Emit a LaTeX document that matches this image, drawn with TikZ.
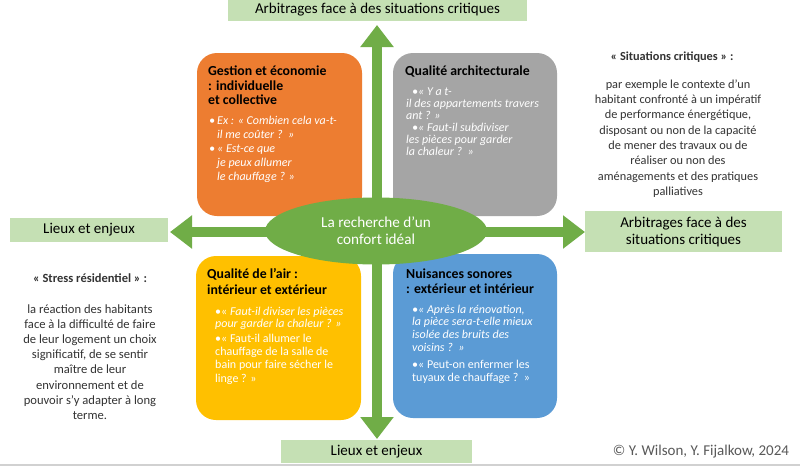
\documentclass[tikz,border=0pt]{standalone}
\usepackage{fontspec}
\setmainfont{Carlito}
\usetikzlibrary{arrows.meta,shapes.geometric}
\definecolor{orbox}{HTML}{ED7D31}
\definecolor{grbox}{HTML}{A5A5A5}
\definecolor{yebox}{HTML}{FFC000}
\definecolor{blbox}{HTML}{5B9BD5}
\definecolor{arrgreen}{HTML}{70AD47}
\definecolor{lblgreen}{HTML}{C5E0B4}
\definecolor{bodytext}{HTML}{333333}
\definecolor{copytext}{HTML}{595959}
\tikzset{
  quad/.style={rounded corners=20pt, inner sep=0pt, draw=none},
  lbl/.style={fill=lblgreen, inner sep=0pt, align=center, font=\fontsize{15}{17}\selectfont},
  ttl/.style={anchor=north west, inner sep=0pt, align=left, font=\bfseries\fontsize{13.8}{14.5}\selectfont},
  bul/.style={anchor=north west, inner sep=0pt, align=left, text=white},
  bigarrow/.style={arrgreen, line width=10pt, {Triangle[length=22pt,width=32pt]}-{Triangle[length=22pt,width=32pt]}},
  side/.style={inner sep=0pt, align=center, text=bodytext}
}
\begin{document}
\begin{tikzpicture}[x=1pt,y=-1pt]
\useasboundingbox (0,0) rectangle (800,466);
\fill[white] (0,0) rectangle (800,466);
\draw[black!18, line width=2pt] (0,465) -- (800,465);

% labels
\node[lbl, minimum width=299pt, minimum height=21pt] (toplbl) at (377.5,10) {Arbitrages face à des situations critiques};
\node[lbl, minimum width=158pt, minimum height=24pt] (leftlbl) at (89,230) {Lieux et enjeux};
\node[lbl, minimum width=197pt, minimum height=41pt] (rightlbl) at (683.5,231.5) {Arbitrages face à des\\situations critiques};
\node[lbl, minimum width=191pt, minimum height=23pt] (botlbl) at (376.5,451.5) {Lieux et enjeux};

% arrow endpoints
\coordinate (vt) at (377,25);
\coordinate (vb) at (377,439);
\coordinate (hl) at (170,232);
\coordinate (hr) at (585,232);
\draw[bigarrow] (vb) -- (vt);
\draw[bigarrow] (hl) -- (hr);

% quadrant boxes
\node[quad, fill=orbox, minimum width=165pt, minimum height=163pt] (ob) at (279.5,134.5) {};
\node[quad, fill=grbox, minimum width=164pt, minimum height=163pt] (gb) at (475,134.5) {};
\node[quad, fill=yebox, minimum width=165pt, minimum height=164pt] (yb) at (278.5,338) {};
\node[quad, fill=blbox, minimum width=164pt, minimum height=164pt] (bb) at (475,336) {};

% centre ellipse
\node[ellipse, fill=arrgreen, inner sep=0pt, minimum width=222pt, minimum height=67pt, text=white, align=center,
      font=\fontsize{15.2}{17}\selectfont] (ell) at (376,231) {La recherche d’un\\confort idéal};

% orange box text
\node[ttl] (obt) at (208,66) {Gestion et économie\\: individuelle\\et collective};
\node[bul, font=\itshape\fontsize{12}{14.2}\selectfont] (obb) at (209,115.5)
  {\makebox[8pt][l]{•}Ex : « Combien cela va-t-\\\hspace*{8pt}il me coûter ?~~»\\\makebox[8pt][l]{•}« Est-ce que\\\hspace*{8pt}je peux allumer\\\hspace*{8pt}le chauffage ? »};

% gray box text
\node[ttl] (gbt) at (405,66) {Qualité architecturale};
\node[bul, font=\itshape\fontsize{12}{12.1}\selectfont] (gbb) at (406,87.5)
  {\hspace*{6pt}•« Y a t-\\il des appartements travers\\ant ? »\\\hspace*{6pt}•« Faut-il subdiviser\\les pièces pour garder\\la chaleur ?~~»};

% yellow box text
\node[ttl, font=\bfseries\fontsize{13.8}{15.8}\selectfont] (ybt) at (207,268) {Qualité de l'air :\\intérieur et extérieur};
\node[bul, font=\fontsize{12}{12.8}\selectfont] (yb1) at (215,306.5)
  {•« \textit{Faut-il diviser les pièces}\\\textit{pour garder la chaleur ? »}};
\node[bul, font=\fontsize{12}{13.4}\selectfont] (yb2) at (215,333.5)
  {•« Faut-il allumer le\\chauffage de la salle de\\bain pour faire sécher le\\linge ? »};

% blue box text
\node[ttl, font=\bfseries\fontsize{13.8}{15}\selectfont] (bbt) at (406,269) {Nuisances sonores\\: extérieur et intérieur};
\node[bul, font=\itshape\fontsize{12}{12.8}\selectfont] (bb1) at (412,304.5)
  {•« Après la rénovation,\\la pièce sera-t-elle mieux\\isolée des bruits des\\voisins ?~~»};
\node[bul, font=\fontsize{12}{12.5}\selectfont] (bb2) at (412,360)
  {•« Peut-on enfermer les\\tuyaux de chauffage ?~~»};

% right side text
\node[side, font=\bfseries\fontsize{12.3}{14}\selectfont] (rt) at (672,57) {« Situations critiques » :};
\node[side, font=\fontsize{12.3}{15.3}\selectfont] (rp) at (678,138.5)
  {par exemple le contexte d’un\\habitant confronté à un impératif\\de performance énergétique,\\disposant ou non de la capacité\\de mener des travaux ou de\\réaliser ou non des\\aménagements et des pratiques\\palliatives};

% left side text
\node[side, font=\bfseries\fontsize{12.5}{14}\selectfont] (lt) at (90,278) {« Stress résidentiel » :};
\node[side, font=\fontsize{12.6}{15.2}\selectfont] (lp) at (90,362)
  {la réaction des habitants\\face à la difficulté de faire\\de leur logement un choix\\significatif, de se sentir\\maître de leur\\environnement et de\\pouvoir s'y adapter à long\\terme.};

% copyright
\node[inner sep=0pt, text=copytext, font=\fontsize{15}{17}\selectfont] (copy) at (701,452) {© Y. Wilson, Y. Fijalkow, 2024};
\end{tikzpicture}
\end{document}
